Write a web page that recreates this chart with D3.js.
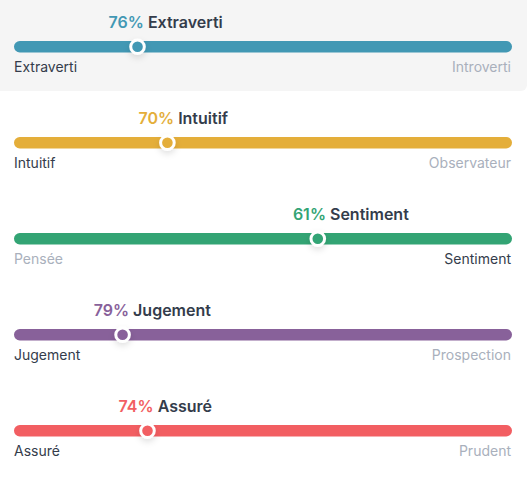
<!DOCTYPE html>
<html><head><meta charset="utf-8">
<script src="https://cdn.jsdelivr.net/npm/d3@7"></script>
<style>
html,body{margin:0;padding:0;background:#fff;}
svg{display:block;font-family:Inter,"Noto Sans",sans-serif;}
</style></head>
<body><svg id="chart" width="527" height="477"></svg>
<script>
const traits = ["Extraverti","Intuitif","Sentiment","Jugement","Assuré"];
const leftLabels = ["Extraverti","Intuitif","Pensée","Jugement","Assuré"];
const rightLabels = ["Introverti","Observateur","Sentiment","Prospection","Prudent"];
const percents = [76,70,61,79,74];
const dominantSide = ["left","left","right","left","left"];
const colors = ["#4298b4","#e4ae3a","#33a474","#88619a","#f25e62"];

const W = 527, H = 477;
const svg = d3.select("#chart");
const defs = svg.append("defs");
const f = defs.append("filter").attr("id","sh").attr("x","-100%").attr("y","-100%").attr("width","300%").attr("height","300%");
f.append("feDropShadow").attr("dx",0).attr("dy",3).attr("stdDeviation",3).attr("flood-color","#000").attr("flood-opacity",0.12);

const x = d3.scaleLinear().domain([0,100]).range([14,512]);
const rowY = d3.scaleLinear().domain([0,1]).range([0,96]);

svg.append("rect").attr("x",-8).attr("y",-10).attr("width",W+8).attr("height",101).attr("rx",6).attr("fill","#f5f5f5");

const data = traits.map((t,i)=>({t,i,p:percents[i],side:dominantSide[i],c:colors[i],l:leftLabels[i],r:rightLabels[i],
  pos: dominantSide[i]==="left" ? 100-percents[i] : percents[i]}));

const g = svg.selectAll("g.row").data(data).join("g").attr("class","row")
  .attr("transform",d=>`translate(0,${rowY(d.i)})`);

g.append("rect").attr("x",x(0)).attr("y",41).attr("width",x(100)-x(0)).attr("height",11.5).attr("rx",5.75).attr("fill",d=>d.c);

g.append("circle").attr("cx",d=>x(d.pos)+(d.side==="left"?4:0)).attr("cy",46.75).attr("r",6.8)
  .attr("fill",d=>d.c).attr("stroke","#fff").attr("stroke-width",3).attr("filter","url(#sh)");

const title = g.append("text").attr("x",d=>x(d.pos-5)).attr("y",28).attr("font-size",16).attr("font-weight",600);
title.append("tspan").attr("fill",d=>d.c).text(d=>d.p+"% ");
title.append("tspan").attr("fill","#343c4b").text(d=>d.t);

g.append("text").attr("x",x(0)).attr("y",72).attr("font-size",14)
  .attr("fill",d=>d.side==="left"?"#343c4b":"#a9b0bc").text(d=>d.l);
g.append("text").attr("x",x(100)-1).attr("y",72).attr("font-size",14).attr("text-anchor","end")
  .attr("fill",d=>d.side==="right"?"#343c4b":"#a9b0bc").text(d=>d.r);
</script></body></html>
